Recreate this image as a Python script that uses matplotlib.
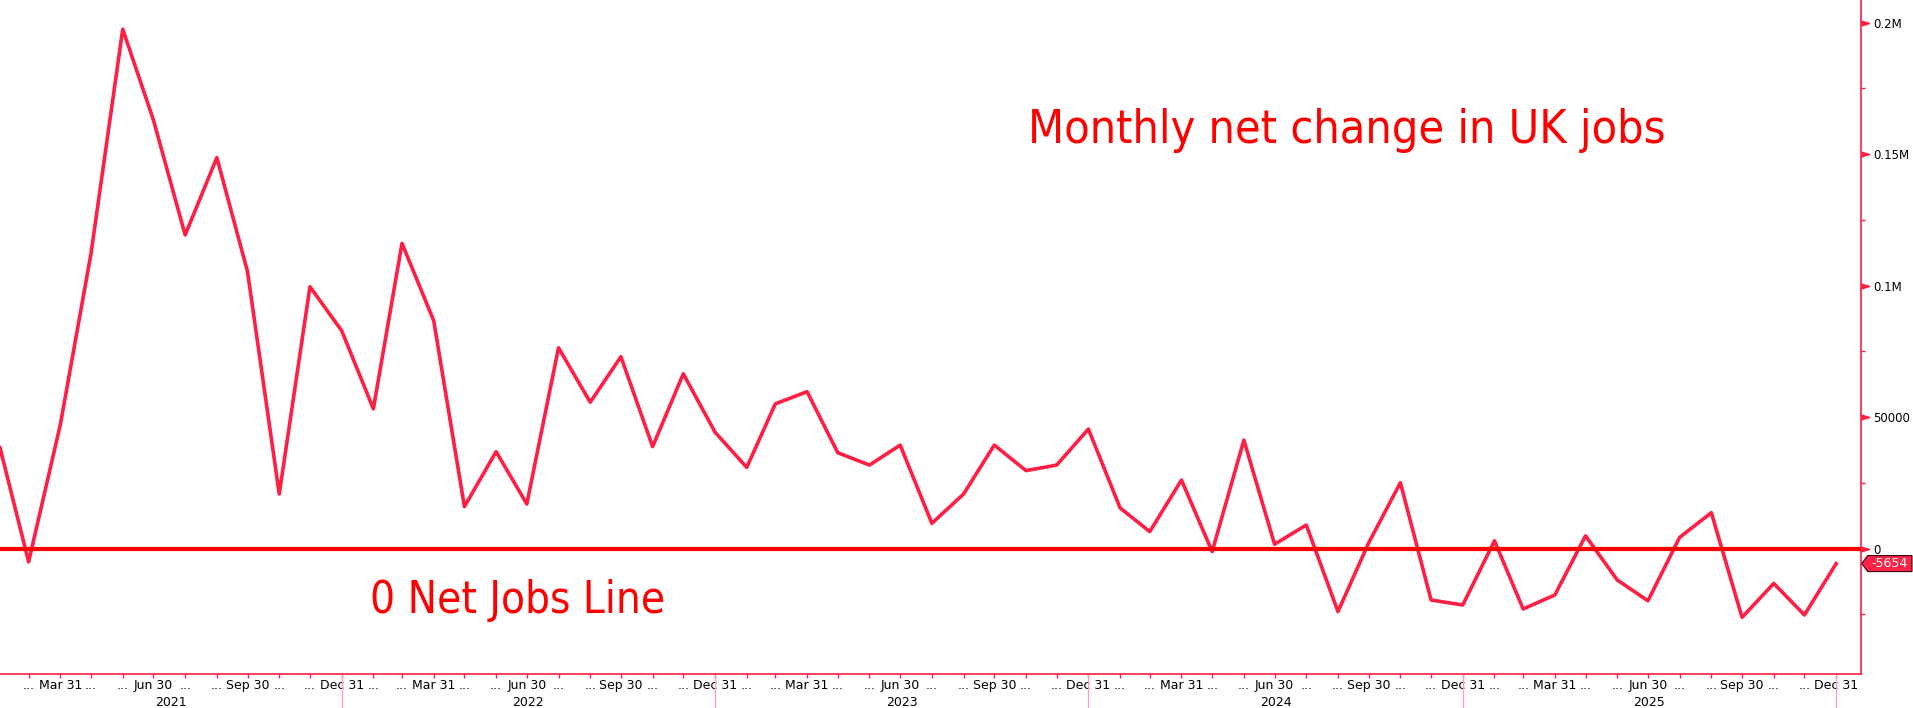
import matplotlib
matplotlib.use('Agg')
import matplotlib.pyplot as plt
import matplotlib.transforms as mtransforms
import matplotlib.dates as mdates
from matplotlib.patches import Polygon
from matplotlib.ticker import FixedLocator, FixedFormatter
import pandas as pd

# ---------------- data ----------------
months = pd.date_range('2021-01-31', periods=60, freq='ME')
job_change = [38400, -5000, 47200, 112300, 197500, 163000, 119300, 148700, 105300, 20800, 99600, 82900,
              53200, 116100, 86700, 16000, 36900, 17000, 76400, 55700, 73000, 38800, 66500, 44300,
              30900, 55100, 59700, 36500, 31800, 39400, 9650, 20800, 39400, 29700, 31800, 45500,
              15500, 6500, 26100, -1100, 41300, 1700, 9000, -23900, 2200, 25100, -19500, -21400,
              3000, -22900, -17600, 4900, -11900, -19800, 4300, 13700, -26100, -13200, -25200, -5654]
y_ticks = [0, 50000, 100000, 150000, 200000]
y_tick_labels = ['0', '50000', '0.1M', '0.15M', '0.2M']
y_minor_ticks = [-25000, 25000, 75000, 125000, 175000]
years = [2021, 2022, 2023, 2024, 2025]
title_text = 'Monthly net change in UK jobs'
zero_text = '0 Net Jobs Line'
last_label = '-5654'

LINE = '#ff1f44'
AXC = '#ff1f44'
W, H = 1913, 708

fig = plt.figure(figsize=(W / 100, H / 100), dpi=100)
fig.patch.set_facecolor('white')
ax = fig.add_axes([0, 1 - 674 / H, 1860.7 / W, 674 / H])

ax.plot(months, job_change, color=LINE, lw=2.6, zorder=3)
ax.axhline(0, color='#ff0000', lw=3.0, zorder=4)

ax.set_xlim(pd.Timestamp('2021-01-31'), pd.Timestamp('2026-01-24'))
ax.set_ylim(-47640, 208630)

for s in ['left', 'top']:
    ax.spines[s].set_visible(False)
for s in ['right', 'bottom']:
    ax.spines[s].set_color(AXC)
    ax.spines[s].set_linewidth(1.2)

# y axis (right)
ax.yaxis.tick_right()
ax.yaxis.set_major_locator(FixedLocator(y_ticks))
ax.yaxis.set_major_formatter(FixedFormatter(y_tick_labels))
ax.yaxis.set_minor_locator(FixedLocator(y_minor_ticks))
ax.tick_params(axis='y', which='major', length=0, pad=9, labelsize=8.5, labelcolor='black')
ax.tick_params(axis='y', which='minor', length=3, width=1, color=AXC, direction='out')

tri_trans = mtransforms.blended_transform_factory(ax.transAxes, ax.transData) + \
    mtransforms.ScaledTranslation(0.04, 0, fig.dpi_scale_trans)
ax.plot([1] * len(y_ticks), y_ticks, ls='none', marker=[(-1, -0.6), (1, 0), (-1, 0.6)],
        ms=6, color=AXC, transform=tri_trans, clip_on=False, zorder=5)

# x axis: month ends
all_months = pd.date_range('2021-02-28', '2025-12-31', freq='ME')
mlabels = [d.strftime('%b %d') if d.month in (3, 6, 9, 12) else '...' for d in all_months]
ax.set_xticks(all_months)
ax.set_xticklabels(mlabels)
ax.tick_params(axis='x', which='major', length=3, width=1, color=AXC, direction='out',
               pad=0.5, labelsize=9, labelcolor='black')

xt = ax.get_xaxis_transform()
xmin, xmax = ax.get_xlim()
for yr in years:
    start = max(mdates.date2num(pd.Timestamp(f'{yr - 1}-12-31')), xmin)
    end = min(mdates.date2num(pd.Timestamp(f'{yr}-12-31')), xmax)
    ax.text((start + end) / 2, -(702 - 674) / 674, str(yr), transform=xt,
            ha='center', va='center', fontsize=9, color='black')
    sep = mdates.date2num(pd.Timestamp(f'{yr}-12-31'))
    ax.plot([sep, sep], [0, -34 / 674], transform=xt, color='#ff9fb0', lw=0.9, clip_on=False)

# annotations
ax.text(1028 / 1860.7, 1 - 143 / 674, title_text, transform=ax.transAxes, color='#ff0000',
        fontsize=33.5, family='DejaVu Sans', fontstretch='condensed', va='baseline', ha='left')
ax.text(370 / 1860.7, 1 - 613 / 674, zero_text, transform=ax.transAxes, color='#ff0000',
        fontsize=31.5, family='DejaVu Sans', fontstretch='condensed', va='baseline', ha='left')

# last value tag
bt = mtransforms.blended_transform_factory(ax.transAxes, ax.transData)
x0, yc = bt.transform((1, job_change[-1]))
pts = [(x0 + 1, yc), (x0 + 7, yc + 8), (W - 1, yc + 8), (W - 1, yc - 8), (x0 + 7, yc - 8)]
poly = Polygon(pts, closed=True, facecolor='#ff2447', edgecolor='#3a0010', lw=0.8,
               transform=mtransforms.IdentityTransform())
fig.add_artist(poly)
fig.text((x0 + 7 + W - 1) / 2, yc, last_label, transform=mtransforms.IdentityTransform(),
         color='white', fontsize=9, ha='center', va='center')

fig.savefig('out.png', dpi=100)
